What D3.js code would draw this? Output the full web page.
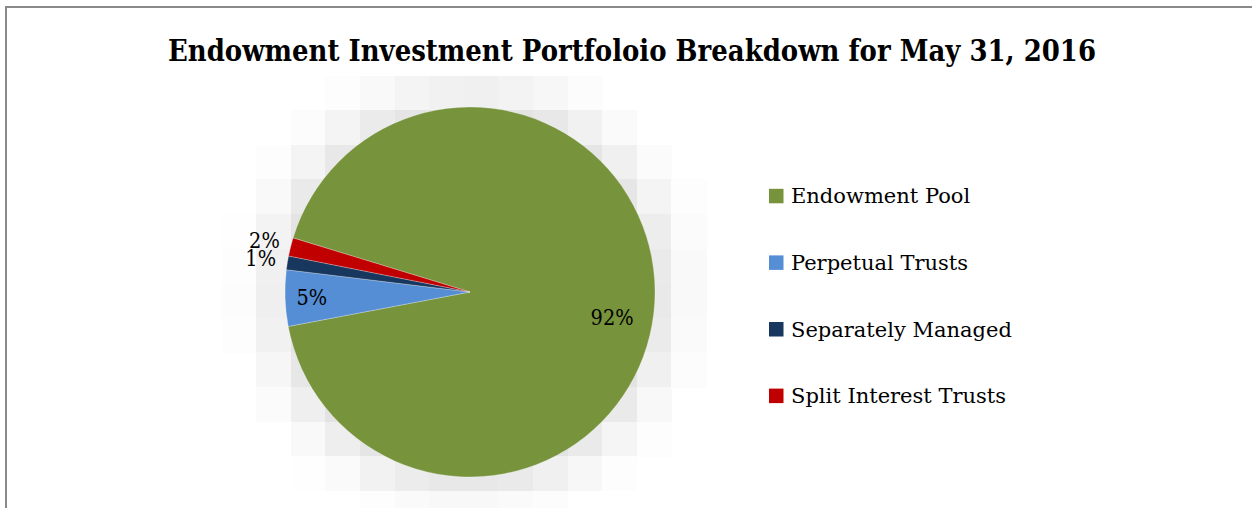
<!DOCTYPE html>
<html>
<head>
<meta charset="utf-8">
<script src="https://cdn.jsdelivr.net/npm/d3@7"></script>
<style>
  html, body { margin: 0; padding: 0; background: #ffffff; }
  svg { display: block; }
  .serif { font-family: "Palatino Linotype", "Book Antiqua", Palatino, "DejaVu Serif", serif; }
</style>
</head>
<body>
<svg id="chart" width="1252" height="508"></svg>
<script>
// Portfolio composition, May 31, 2016 (percent of total)
const categories = ["Endowment Pool", "Perpetual Trusts", "Separately Managed", "Split Interest Trusts"];
const shares = [92.3, 4.9, 1.2, 1.6];
const sliceColors = ["#77933C", "#558ED5", "#17375E", "#C00000"];
const chartTitle = "Endowment Investment Portfoloio Breakdown for May 31, 2016";

const W = 1252, H = 508;
const svg = d3.select("#chart");

// Chart frame (continues past the right and bottom edges)
svg.append("rect")
  .attr("x", 6).attr("y", 7)
  .attr("width", W + 20).attr("height", H + 20)
  .attr("fill", "none")
  .attr("stroke", "#8a8a8a")
  .attr("stroke-width", 2);

// Title
svg.append("text")
  .attr("class", "serif")
  .attr("x", 632).attr("y", 61)
  .attr("text-anchor", "middle")
  .attr("font-size", 30)
  .attr("font-weight", "bold")
  .attr("fill", "#000")
  .attr("textLength", 928)
  .attr("lengthAdjust", "spacingAndGlyphs")
  .text(chartTitle);

// Pie layout
const cx = 470, cy = 292, R = 185;
const firstSliceAngle = 287; // degrees, clockwise from 12 o'clock
const a0 = firstSliceAngle * Math.PI / 180;

const pie = d3.pie().sort(null).value(d => d).startAngle(a0).endAngle(a0 + 2 * Math.PI);
const arcs = pie(shares);
const arc = d3.arc().innerRadius(0).outerRadius(R);

// Soft shadow, rendered as a coarse block raster around the pie
function erfc(x) {
  const z = Math.abs(x), t = 1 / (1 + 0.5 * z);
  const r = t * Math.exp(-z * z - 1.26551223 + t * (1.00002368 + t * (0.37409196 + t * (0.09678418 +
    t * (-0.18628806 + t * (0.27886807 + t * (-1.13520398 + t * (1.48851587 +
    t * (-0.82215223 + t * 0.17087277)))))))));
  return x >= 0 ? r : 2 - r;
}
const cell = 34.6, gx0 = 221.6, gy0 = 75.6;
const shadow = svg.append("g").attr("shape-rendering", "crispEdges");
for (let i = 0; i < 16; i++) {
  for (let j = 0; j < 13; j++) {
    const x = gx0 + i * cell, y = gy0 + j * cell;
    const d = Math.hypot(x + cell / 2 - cx, y + cell / 2 - cy);
    const dark = 32 * 0.5 * erfc((d - (R + 12)) / (25 * Math.SQRT2));
    if (dark < 1) continue;
    const g = Math.round(255 - dark);
    shadow.append("rect")
      .attr("x", x).attr("y", y)
      .attr("width", cell + 0.6).attr("height", Math.min(cell + 0.6, H - y))
      .attr("fill", d3.rgb(g, g, g));
  }
}

const pieG = svg.append("g").attr("transform", `translate(${cx},${cy})`);
pieG.selectAll("path.slice")
  .data(arcs)
  .join("path")
  .attr("class", "slice")
  .attr("d", arc)
  .attr("fill", (d, i) => sliceColors[i])
  .attr("stroke", "rgba(255,255,255,0.45)")
  .attr("stroke-width", 0.6)
  .attr("stroke-linejoin", "round");

// Data labels: large slices inside, thin slices just outside the rim
const fmt = d3.format(".0%");
const labelNudge = [[-16, 16], [0, 0], [0, 0], [0, 0]];
const labels = pieG.selectAll("text.lbl")
  .data(arcs)
  .join("text")
  .attr("class", "lbl serif")
  .attr("font-size", 22)
  .attr("fill", "#000")
  .attr("text-anchor", "middle")
  .attr("dy", "0.36em")
  .attr("transform", (d, i) => {
    const mid = (d.startAngle + d.endAngle) / 2;
    const rr = d.data >= 4 ? R * 0.856 : R + 27;
    const x = rr * Math.sin(mid) + labelNudge[i][0];
    const y = -rr * Math.cos(mid) + labelNudge[i][1];
    return `translate(${x},${y})`;
  })
  .text(d => fmt(d.data / 100));
// slightly narrower set for the percentage figures
labels.each(function () {
  const len = this.getComputedTextLength();
  d3.select(this).attr("textLength", len * 0.88).attr("lengthAdjust", "spacingAndGlyphs");
});

// Legend
const legendX = 769, legendY = 203.3, legendStep = 66.6, sw = 14.5;
const legend = svg.append("g");
const items = legend.selectAll("g")
  .data(categories)
  .join("g")
  .attr("transform", (d, i) => `translate(${legendX},${legendY + i * legendStep})`);
items.append("rect")
  .attr("x", 0).attr("y", -sw)
  .attr("width", sw).attr("height", sw)
  .attr("fill", (d, i) => sliceColors[i]);
items.append("text")
  .attr("class", "serif")
  .attr("x", 22).attr("y", 0)
  .attr("font-size", 21)
  .attr("fill", "#000")
  .text(d => d);
</script>
</body>
</html>
